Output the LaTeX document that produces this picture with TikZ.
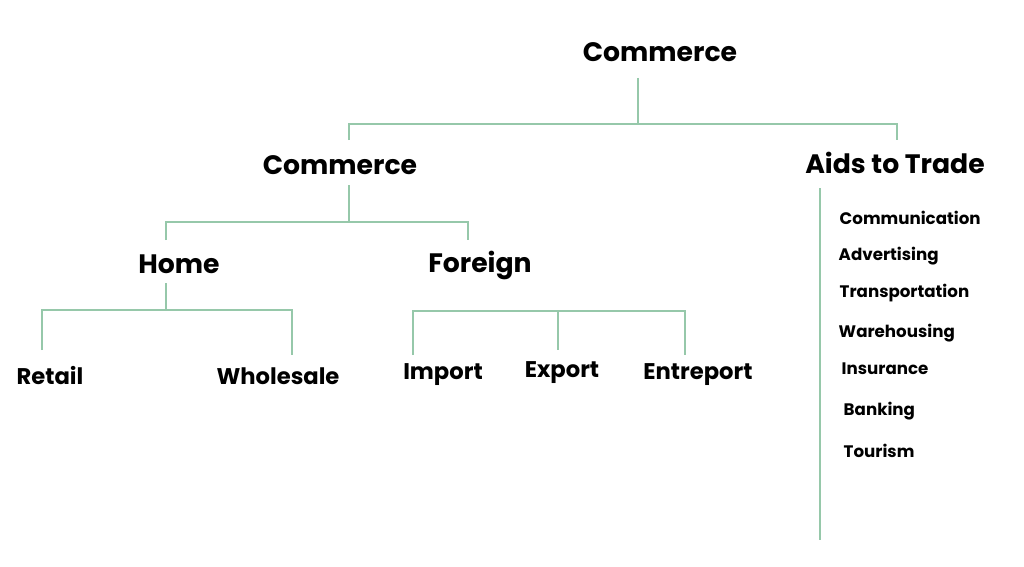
\documentclass[tikz,border=0pt]{standalone}
\usepackage{fontspec}
\setmainfont{Poppins}[BoldFont={* Bold}]
\begin{document}
\begin{tikzpicture}[x=0.75pt,y=-0.75pt]
\definecolor{ln}{RGB}{150,200,170}
\tikzset{h1/.style={font=\bfseries\fontsize{20}{24}\selectfont},
h3/.style={font=\bfseries\fontsize{17}{20}\selectfont},
it/.style={font=\bfseries\fontsize{12.5}{15}\selectfont,anchor=west},
con/.style={ln,line width=1.6pt}}
\useasboundingbox (0,0) rectangle (1024,567);
\node[h1] (top) at (660,52) {Commerce};
\node[h1] (com) at (340,165) {Commerce};
\node[h1] (aid) at (895,163) {Aids to Trade};
\node[h1] (home) at (179,264) {Home};
\node[h1] (for) at (480,265) {Foreign};
\node[h3] (ret) at (50,376) {Retail};
\node[h3] (who) at (278,376) {Wholesale};
\node[h3] (imp) at (443,375) {Import};
\node[h3] (exp) at (562,373) {Export};
\node[h3] (ent) at (698,375) {Entreport};
\node[it] (i1) at (835,218) {Communication};
\node[it] (i2) at (834,256) {Advertising};
\node[it] (i3) at (835,293) {Transportation};
\node[it] (i4) at (834,333) {Warehousing};
\node[it] (i5) at (837,369) {Insurance};
\node[it] (i6) at (839,411) {Banking};
\node[it] (i7) at (839,451) {Tourism};
\draw[con] (638,78) -- (638,124) (349,140) -- (349,124) -- (897,124) -- (897,140);
\draw[con] (349,185) -- (349,222) (166,240) -- (166,222) -- (468,222) -- (468,240);
\draw[con] (166,283) -- (166,310) (42,350) -- (42,310) -- (292,310) -- (292,355);
\draw[con] (413,355) -- (413,311) -- (685,311) -- (685,355) (558,311) -- (558,350);
\draw[con] (820,188) -- (820,540);
\end{tikzpicture}
\end{document}
